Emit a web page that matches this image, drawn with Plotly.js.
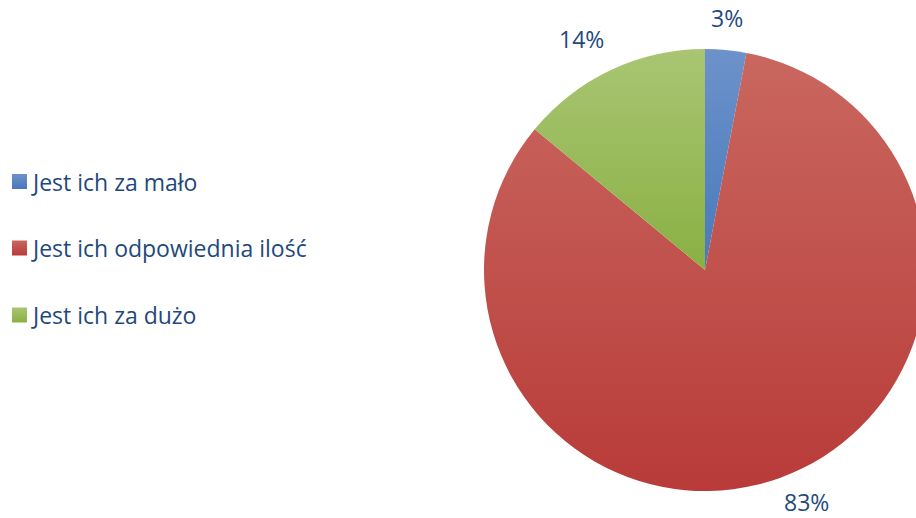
<!DOCTYPE html>
<html>
<head>
<meta charset="utf-8">
<script src="https://cdn.plot.ly/plotly-3.0.1.min.js"></script>
<style>
html,body{margin:0;padding:0;overflow:hidden;background:#fff;width:916px;height:518px;}
#chart{width:940px;height:518px;}
</style>
</head>
<body>
<div id="chart"></div>
<script>
// Data
const categories = ["Jest ich za mało", "Jest ich odpowiednia ilość", "Jest ich za dużo"];
const values = [3, 83, 14];
const baseColors = ["#4F81BD", "#C0504D", "#9BBB59"];
const gradTop = ["#6C92CA", "#C9675F", "#A9C573"];
const gradBottom = ["#4879BB", "#B83B39", "#8AB043"];

const W = 940, H = 518;
const textColor = "#1F497D";
const fontFam = "'Open Sans', sans-serif";
const fontSize = 23;

// pie geometry (pixels)
const cxPx = 705, cyPx = 270, rPx = 221;
const domX = [(cxPx - rPx) / W, (cxPx + rPx) / W];
const domY = [(H - cyPx - rPx) / H, (H - cyPx + rPx) / H];

// percent labels computed from data
const total = values.reduce((a, b) => a + b, 0);
const annotations = [];
let cum = 0;
const distUpper = 236, distLower = 229;
values.forEach((v, i) => {
  const mid = (cum + v / 2) / total * 2 * Math.PI;
  cum += v;
  const s = Math.sin(mid), c = Math.cos(mid);
  const d = c > 0 ? distUpper : distLower;
  const px = cxPx + d * s, py = cyPx - d * c;
  annotations.push({
    xref: "paper", yref: "paper",
    x: px / W, y: (H - py) / H,
    xanchor: s > 0.3 ? "left" : (s < -0.3 ? "right" : "center"),
    yanchor: c > 0 ? "bottom" : "top",
    text: Math.round(v / total * 100) + "%",
    showarrow: false, borderpad: 0,
    font: {family: fontFam, size: fontSize, color: textColor}
  });
});

// legend (manual)
const legendTextY = [182, 248, 315];
const legendBoxY = [181.5, 248, 315];
const shapes = [];
categories.forEach((name, i) => {
  const sq = 15;
  shapes.push({
    type: "rect", xref: "paper", yref: "paper",
    x0: 12 / W, x1: (12 + sq) / W,
    y0: (H - legendBoxY[i] - sq / 2) / H, y1: (H - legendBoxY[i] + sq / 2) / H,
    fillcolor: baseColors[i], line: {width: 0}
  });
  annotations.push({
    xref: "paper", yref: "paper",
    x: 30 / W, y: (H - legendTextY[i]) / H,
    xanchor: "left", yanchor: "middle",
    text: name, showarrow: false, borderpad: 0,
    font: {family: fontFam, size: fontSize, color: textColor}
  });
});

const trace = {
  type: "pie",
  labels: categories,
  values: values,
  sort: false,
  direction: "clockwise",
  rotation: 0,
  marker: {colors: baseColors, line: {width: 0}},
  textinfo: "none",
  hoverinfo: "label+percent",
  domain: {x: domX, y: domY},
  showlegend: false
};

const layout = {
  width: W, height: H,
  margin: {l: 0, r: 0, t: 0, b: 0},
  paper_bgcolor: "#ffffff",
  showlegend: false,
  annotations: annotations,
  shapes: shapes
};

Plotly.newPlot("chart", [trace], layout, {staticPlot: true}).then(() => {
  const svgNS = "http://www.w3.org/2000/svg";
  const svg = document.querySelector("#chart .main-svg");
  let defs = svg.querySelector("defs");
  if (!defs) { defs = document.createElementNS(svgNS, "defs"); svg.insertBefore(defs, svg.firstChild); }
  baseColors.forEach((c, i) => {
    const g = document.createElementNS(svgNS, "linearGradient");
    g.setAttribute("id", "grad" + i);
    g.setAttribute("x1", "0"); g.setAttribute("y1", "0");
    g.setAttribute("x2", "0"); g.setAttribute("y2", "1");
    const s1 = document.createElementNS(svgNS, "stop");
    s1.setAttribute("offset", "0"); s1.setAttribute("stop-color", gradTop[i]);
    const s2 = document.createElementNS(svgNS, "stop");
    s2.setAttribute("offset", "1"); s2.setAttribute("stop-color", gradBottom[i]);
    g.appendChild(s1); g.appendChild(s2);
    defs.appendChild(g);
  });
  document.querySelectorAll("#chart g.slice path.surface").forEach((p, i) => {
    p.style.fill = "url(#grad" + i + ")";
  });
  document.querySelectorAll("#chart .shapelayer path").forEach((p, i) => {
    p.style.fill = "url(#grad" + i + ")";
  });
});
</script>
</body>
</html>
